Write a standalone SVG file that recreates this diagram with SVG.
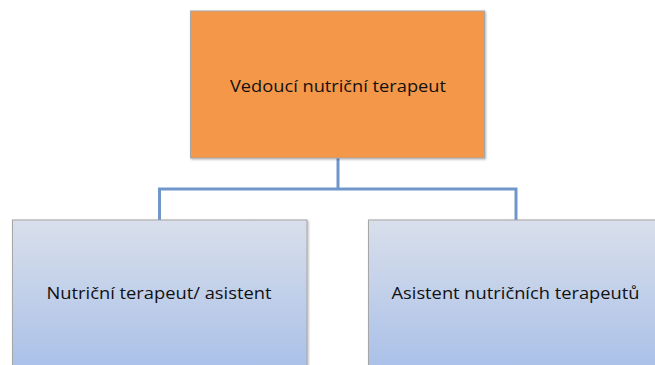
<svg xmlns="http://www.w3.org/2000/svg" width="655" height="365" viewBox="0 0 655 365">
  <defs>
    <linearGradient id="blueGrad" x1="0" y1="0" x2="0" y2="1">
      <stop offset="0" stop-color="#D9DFEB"/>
      <stop offset="1" stop-color="#A6BEE8"/>
    </linearGradient>
    <filter id="shadow" x="-5%" y="-5%" width="110%" height="110%">
      <feDropShadow dx="1" dy="1" stdDeviation="1" flood-color="#000" flood-opacity="0.3"/>
    </filter>
  </defs>
  <style>
    .box { stroke: #A6A6A6; stroke-width: 1; filter: url(#shadow); }
    .top { fill: #F49748; }
    .sub { fill: url(#blueGrad); }
    .label { font-family: "Open Sans", "Liberation Sans", sans-serif; font-size: 17px; fill: #111; text-anchor: middle; }
    .conn { fill: none; stroke: #7097CA; stroke-width: 3; }
  </style>
  <rect width="655" height="365" fill="#FFFFFF"/>
  <g id="connectors">
    <path class="conn" d="M338 158 V189"/>
    <path class="conn" d="M159.5 220 V189 H516 V220"/>
  </g>
  <g id="node-vedouci">
    <rect class="box top" x="190.5" y="11" width="294" height="147"/>
    <text class="label" x="338" y="91.5" textLength="216" lengthAdjust="spacingAndGlyphs">Vedoucí nutriční terapeut</text>
  </g>
  <g id="node-nutricni">
    <rect class="box sub" x="12.5" y="220" width="294.5" height="160"/>
    <text class="label" x="159" y="299" textLength="225" lengthAdjust="spacingAndGlyphs">Nutriční terapeut/ asistent</text>
  </g>
  <g id="node-asistent">
    <rect class="box sub" x="368.5" y="220" width="300" height="160"/>
    <text class="label" x="515.5" y="299" textLength="248" lengthAdjust="spacingAndGlyphs">Asistent nutričních terapeutů</text>
  </g>
</svg>
